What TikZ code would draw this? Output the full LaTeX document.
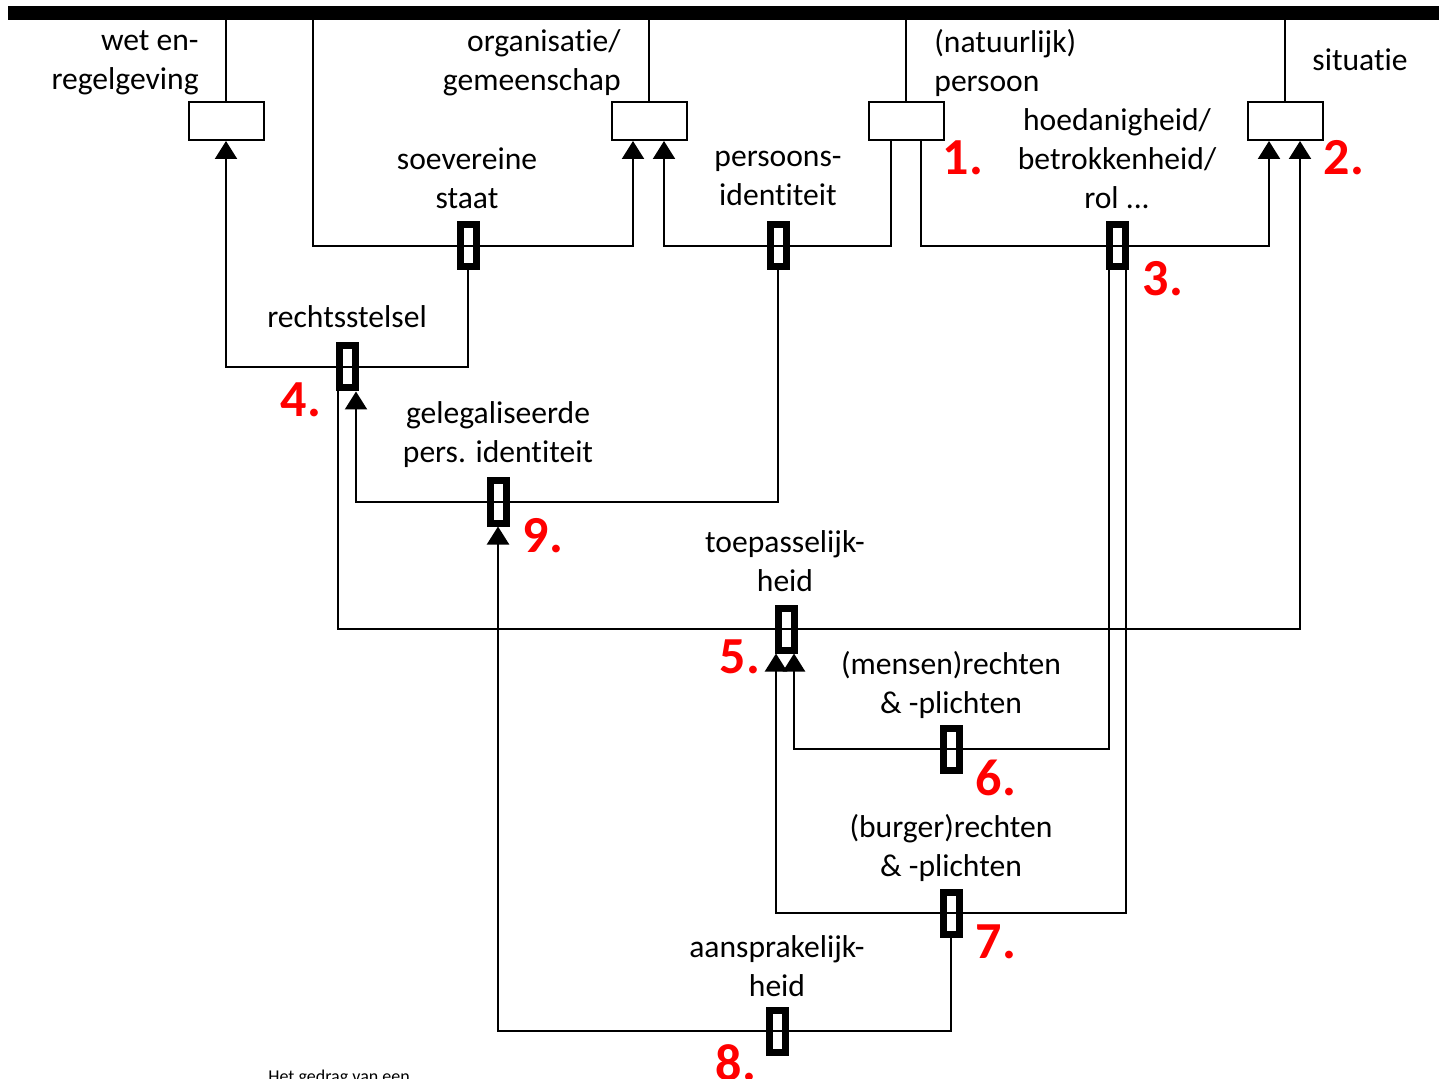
\documentclass[tikz,border=0pt]{standalone}
\usepackage{fontspec}
\setmainfont{Carlito}[Ligatures={NoCommon}]
\usetikzlibrary{arrows.meta}

\tikzset{
  slot/.style={draw, line width=1pt, minimum width=37.5pt, minimum height=19pt, inner sep=0pt},
  junc/.style={draw, line width=3.5pt, minimum width=8pt, minimum height=21pt, inner sep=0pt},
  lbl/.style={font=\fontsize{15.8}{19.5}\selectfont, align=center, inner sep=0pt},
  nr/.style={font=\fontsize{26}{30}\selectfont\bfseries, text=red, inner sep=0pt},
  wire/.style={line width=1.1pt},
  feed/.style={wire, -{Triangle[length=9pt,width=11pt]}},
}

\begin{document}
\begin{tikzpicture}[x=0.5pt, y=-0.5pt]
  \useasboundingbox (0,0) rectangle (1439,1079);
  \clip (0,0) rectangle (1439,1079);

  % balk bovenaan
  \coordinate (barL) at (8,13);
  \coordinate (barR) at (1439,13);
  \draw[line width=7pt] (barL) -- (barR);

  % vakjes onder de balk
  \node[slot] (wet) at (226,121) {};
  \node[slot] (org) at (649,121) {};
  \node[slot] (pers) at (906,121) {};
  \node[slot] (sit) at (1285,121) {};
  \foreach \n in {wet,org,pers,sit}
    \draw[wire] (\n.north) -- (\n.north |- barL);

  \node[lbl, align=right, anchor=east] (wetL) at (199,63) {wet en-\\regelgeving};
  \node[lbl, align=right, anchor=east] (orgL) at (621,63) {organisatie/\\gemeenschap};
  \node[lbl, align=left, anchor=west] (persL) at (934,63) {(natuurlijk)\\persoon};
  \node[lbl, anchor=west] (sitL) at (1312,60) {situatie};

  % knooppunten
  \node[junc] (S) at (468,246) {};
  \node[junc] (P) at (778,246) {};
  \node[junc] (H) at (1117,246) {};
  \node[junc] (R) at (347,367) {};
  \node[junc] (G) at (498,502) {};
  \node[junc] (T) at (786,629) {};
  \node[junc] (M) at (951,749) {};
  \node[junc] (Bu) at (951,913) {};
  \node[junc] (A) at (777,1031) {};

  \node[lbl] (SL) at (467,178) {soevereine\\staat};
  \node[lbl] (PL) at (778,178) {persoons-\\identiteit};
  \node[lbl] (HL) at (1117,159) {hoedanigheid/\\betrokkenheid/\\rol ...};
  \node[lbl] (RL) at (347,317) {rechtsstelsel};
  \node[lbl] (GL) at (498,435) {gelegaliseerde\\pers. identiteit};
  \node[lbl] (TL) at (785,561) {toepasselijk-\\heid};
  \node[lbl] (ML) at (951,685) {(mensen)rechten\\\& -plichten};
  \node[lbl] (BuL) at (951,848) {(burger)rechten\\\& -plichten};
  \node[lbl] (AL) at (777,966) {aansprakelijk-\\heid};

  % nummers
  \node[nr] (n1) at (963,158) {1.};
  \node[nr] (n2) at (1344,158) {2.};
  \node[nr] (n3) at (1163,279) {3.};
  \node[nr] (n4) at (301,400) {4.};
  \node[nr] (n5) at (740,657) {5.};
  \node[nr] (n6) at (996,778) {6.};
  \node[nr] (n7) at (996,942) {7.};
  \node[nr] (n8) at (736,1063) {8.};
  \node[nr] (n9) at (543,536) {9.};

  % aansluitpunten
  \coordinate (s0) at (313,13);
  \coordinate (org-in1) at ([xshift=-8pt]org.south);
  \coordinate (org-in2) at ([xshift=7.5pt]org.south);
  \coordinate (pers-o1) at ([xshift=-7.5pt]pers.south);
  \coordinate (pers-o2) at ([xshift=7.5pt]pers.south);
  \coordinate (sit-in1) at ([xshift=-8pt]sit.south);
  \coordinate (sit-in2) at ([xshift=7.5pt]sit.south);
  \coordinate (R-o) at ([xshift=-4.5pt]R.south);
  \coordinate (R-in) at ([xshift=4.5pt]R.south);
  \coordinate (H-o1) at ([xshift=-4pt]H.south);
  \coordinate (H-o2) at ([xshift=4.5pt]H.south);
  \coordinate (T-in1) at ([xshift=-5pt]T.south);
  \coordinate (T-in2) at ([xshift=4pt]T.south);

  % verbindingen
  \draw[feed] (s0) |- (S.center) -| (org-in1);
  \draw[wire] (S.south) |- (R.center);
  \draw[feed] (R.center) -| (wet.south);
  \draw[feed] (pers-o1) |- (P.center) -| (org-in2);
  \draw[feed] (pers-o2) |- (H.center) -| (sit-in1);
  \draw[wire] (P.south) |- (G.center);
  \draw[feed] (G.center) -| (R-in);
  \draw[wire] (R-o) |- (T.center);
  \draw[feed] (T.center) -| (sit-in2);
  \draw[wire] (H-o1) |- (M.center);
  \draw[feed] (M.center) -| (T-in2);
  \draw[wire] (H-o2) |- (Bu.center);
  \draw[feed] (Bu.center) -| (T-in1);
  \draw[wire] (Bu.south) |- (A.center);
  \draw[feed] (A.center) -| (G.south);

  \node[font=\fontsize{9}{11}\selectfont, anchor=base west, inner sep=0pt] (voet) at (268,1082) {Het gedrag van een};
\end{tikzpicture}
\end{document}
